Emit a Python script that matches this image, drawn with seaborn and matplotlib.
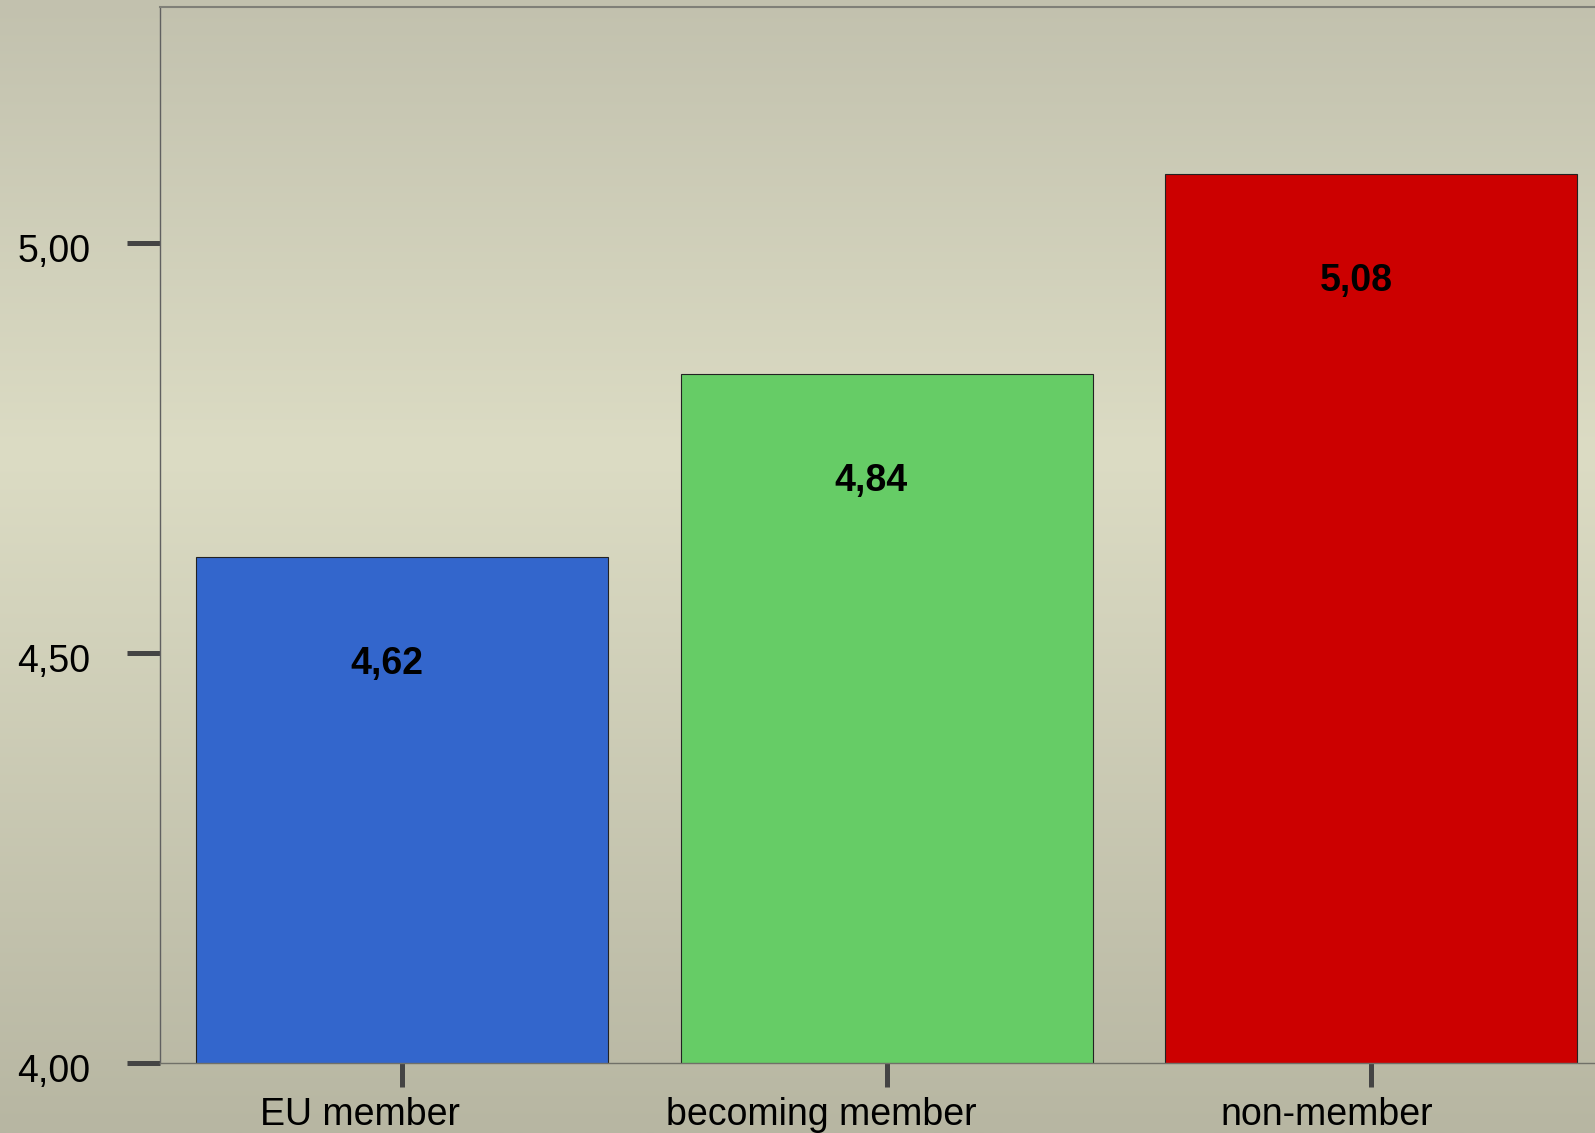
import numpy as np
import pandas as pd
import seaborn as sns
import matplotlib
matplotlib.use("Agg")
import matplotlib.pyplot as plt
from matplotlib.transforms import ScaledTranslation

# data
categories = ["EU member", "becoming member", "non-member"]
values = [4.617, 4.84, 5.084]
bar_colors = ["#3366CC", "#66CC66", "#CC0000"]
y_ticks = [4.0, 4.5, 5.0]

df = pd.DataFrame({"group": categories, "value": values})

sns.set_theme(style="white")
plt.rcParams["font.family"] = ["Liberation Sans", "DejaVu Sans"]

W, H, DPI = 1595, 1133, 100
fig = plt.figure(figsize=(W / DPI, H / DPI), dpi=DPI)

# vertical gradient behind everything
bg = fig.add_axes([0, 0, 1, 1], zorder=-10)
rows = np.linspace(0, 1, 400)
stops = [0.0, 0.40, 1.0]
cols = np.array([[194, 193, 174], [220, 220, 196], [183, 182, 162]]) / 255
grad = np.stack([np.interp(rows, stops, cols[:, k]) for k in range(3)], axis=1)
bg.imshow(grad[:, None, :], aspect="auto", extent=[0, 1, 0, 1])
bg.set_axis_off()

# main axes, right side runs a bit past the figure edge like the original
left, right, top, bottom = 160, 1613.5, 7, 1063
ax = fig.add_axes([left / W, (H - bottom) / H, (right - left) / W, (bottom - top) / H])
ax.set_facecolor("none")

sns.barplot(data=df, x="group", y="value", hue="group", palette=bar_colors,
            saturation=1, width=0.85, edgecolor="#222222", linewidth=0.8,
            legend=False, ax=ax)

ax.set_ylim(4.0, 5.288)
ax.set_xlim(-0.5, 2.5)
ax.set_yticks(y_ticks)
ax.set_yticklabels([f"{t:.2f}".replace(".", ",") for t in y_ticks])
ax.set_xlabel("")
ax.set_ylabel("")

ax.tick_params(axis="y", left=True, length=23.8, width=3.6, color="#444444",
               pad=26.3, labelsize=27, labelcolor="black")
ax.tick_params(axis="x", bottom=True, length=17.3, width=3.6, color="#444444",
               pad=7, labelsize=27, labelcolor="black")

for side in ["left", "bottom", "top", "right"]:
    ax.spines[side].set_visible(True)
ax.spines["left"].set_color("#606060")
ax.spines["left"].set_linewidth(1.0)
ax.spines["bottom"].set_color("#707068")
ax.spines["bottom"].set_linewidth(1.0)
ax.spines["top"].set_color("#808078")
ax.spines["top"].set_linewidth(1.5)

# value labels inside the bars
down = ScaledTranslation(0, -77 / 72, fig.dpi_scale_trans)
value_texts = []
for i, v in enumerate(values):
    t = ax.text(i, v, f"{v:.2f}".replace(".", ","), transform=ax.transData + down,
                ha="center", va="center", fontsize=27, fontweight="bold", color="black")
    value_texts.append(t)

# the original text sits left of centre by about a fifth of its width
fig.canvas.draw()
renderer = fig.canvas.get_renderer()
for t in value_texts + list(ax.get_xticklabels()):
    w = t.get_window_extent(renderer).width
    t.set_transform(t.get_transform() + ScaledTranslation(-0.21 * w / DPI, 0, fig.dpi_scale_trans))
for t in ax.get_yticklabels():
    t.set_transform(t.get_transform() + ScaledTranslation(0, -5 / DPI, fig.dpi_scale_trans))

fig.savefig("out.png", dpi=DPI)
